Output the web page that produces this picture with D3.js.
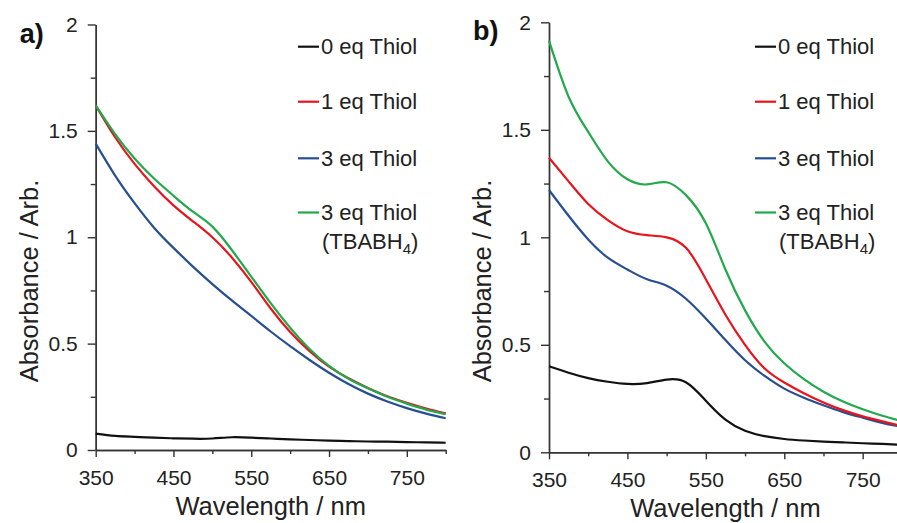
<!DOCTYPE html>
<html>
<head>
<meta charset="utf-8">
<script src="https://cdn.jsdelivr.net/npm/d3@7"></script>
<style>
  body { margin: 0; background: #fff; }
  svg { display: block; font-family: "Liberation Sans", Arial, sans-serif; }
  .domain, .tick line { stroke: #333; stroke-width: 1.4px; }
  .tick text { fill: #222; font-size: 21px; }
</style>
</head>
<body>
<div id="chart"></div>
<script>
const width = 897;
const height = 523;

// wavelength grid (nm), shared by every trace
const wavelengths = [350, 375, 400, 425, 450, 475, 500, 525, 550, 575, 600,
  625, 650, 675, 700, 725, 750, 775, 800];

// panel a) absorbance
const a0eq = [0.077, 0.066, 0.062, 0.058, 0.055, 0.053, 0.054, 0.06, 0.058, 0.054, 0.05,
  0.047, 0.044, 0.042, 0.04, 0.039, 0.037, 0.036, 0.034];
const a1eq = [1.62, 1.47, 1.345, 1.24, 1.15, 1.075, 1.0, 0.905, 0.79, 0.665, 0.555,
  0.465, 0.392, 0.337, 0.292, 0.253, 0.222, 0.195, 0.172];
const a3eq = [1.44, 1.29, 1.16, 1.045, 0.95, 0.862, 0.78, 0.703, 0.63, 0.557, 0.488,
  0.423, 0.363, 0.31, 0.265, 0.228, 0.197, 0.171, 0.149];
const a3eqTb = [1.62, 1.485, 1.37, 1.276, 1.195, 1.12, 1.05, 0.94, 0.815, 0.69, 0.575,
  0.475, 0.395, 0.335, 0.29, 0.25, 0.218, 0.19, 0.168];

// panel b) absorbance
const b0eq = [0.40, 0.37, 0.345, 0.328, 0.318, 0.322, 0.338, 0.325, 0.24, 0.152, 0.10,
  0.075, 0.062, 0.055, 0.05, 0.046, 0.042, 0.039, 0.035];
const b1eq = [1.37, 1.26, 1.155, 1.08, 1.028, 1.01, 1.0, 0.95, 0.805, 0.64, 0.50,
  0.39, 0.325, 0.275, 0.232, 0.196, 0.167, 0.144, 0.122];
const b3eq = [1.22, 1.10, 0.99, 0.905, 0.85, 0.805, 0.775, 0.713, 0.622, 0.522, 0.428,
  0.355, 0.296, 0.254, 0.219, 0.187, 0.161, 0.137, 0.118];
const b3eqTb = [1.915, 1.654, 1.49, 1.353, 1.27, 1.246, 1.256, 1.195, 1.065, 0.85, 0.66,
  0.514, 0.414, 0.34, 0.282, 0.236, 0.2, 0.17, 0.145];

const seriesNames = ["0 eq Thiol", "1 eq Thiol", "3 eq Thiol", "3 eq Thiol"];
const seriesColors = ["#111111", "#e8141c", "#264f91", "#21a94b"];
const drawOrder = [0, 2, 1, 3];

const xMajor = [350, 450, 550, 650, 750];
const xMinor = [400, 500, 600, 700, 800];
const yMajor = [0, 0.5, 1, 1.5, 2];
const yMinor = [0.25, 0.75, 1.25, 1.75];

const svg = d3.select("#chart").append("svg")
  .attr("width", width)
  .attr("height", height);

function drawPanel(p) {
  const x = d3.scaleLinear([350, 800], [p.left, p.right]);
  const y = d3.scaleLinear([0, 2], [p.bottom, p.top]);
  const g = svg.append("g");

  // minor ticks first, then the labelled axis on top
  g.append("g")
    .attr("transform", `translate(0,${p.bottom})`)
    .call(d3.axisBottom(x).tickValues(xMinor).tickSize(4).tickSizeOuter(0).tickFormat(""));
  g.append("g")
    .attr("transform", `translate(0,${p.bottom})`)
    .call(d3.axisBottom(x).tickValues(xMajor).tickSize(7).tickSizeOuter(0).tickPadding(13));

  g.append("g")
    .attr("transform", `translate(${p.left},0)`)
    .call(d3.axisLeft(y).tickValues(yMinor).tickSize(5).tickSizeOuter(0).tickFormat(""));
  g.append("g")
    .attr("transform", `translate(${p.left},0)`)
    .call(d3.axisLeft(y).tickValues(yMajor).tickSize(8).tickSizeOuter(0).tickPadding(10)
      .tickFormat((d) => String(d)));

  const line = d3.line()
    .x((d, i) => x(wavelengths[i]))
    .y((d) => y(d))
    .curve(d3.curveNatural);

  drawOrder.forEach((k) => {
    g.append("path")
      .datum(p.series[k])
      .attr("fill", "none")
      .attr("stroke", seriesColors[k])
      .attr("stroke-width", 2.2)
      .attr("stroke-linejoin", "round")
      .attr("d", line);
  });

  // axis titles
  g.append("text")
    .attr("x", (p.left + p.right) / 2)
    .attr("y", p.bottom + 65)
    .attr("text-anchor", "middle")
    .attr("font-size", 25.5)
    .attr("fill", "#222")
    .text("Wavelength / nm");

  g.append("text")
    .attr("transform", `translate(${p.left - 58},281) rotate(-90)`)
    .attr("text-anchor", "middle")
    .attr("font-size", 25.5)
    .attr("fill", "#222")
    .text("Absorbance / Arb.");

  // panel letter
  g.append("text")
    .attr("x", p.left - 76)
    .attr("y", p.top + 18)
    .attr("font-size", 27)
    .attr("font-weight", "bold")
    .attr("fill", "#111")
    .text(p.letter);

  // legend
  const rows = [46.7, 101.7, 158.3, 212.5];
  rows.forEach((ry, k) => {
    g.append("line")
      .attr("x1", p.legendX).attr("x2", p.legendX + 21)
      .attr("y1", ry).attr("y2", ry)
      .attr("stroke", seriesColors[k])
      .attr("stroke-width", 2.2);
    g.append("text")
      .attr("x", p.legendX + 23)
      .attr("y", ry + 7.5)
      .attr("font-size", 22)
      .attr("fill", "#222")
      .text(seriesNames[k]);
  });
  const sub = g.append("text")
    .attr("x", p.legendX + 24)
    .attr("y", rows[3] + 36)
    .attr("font-size", 22)
    .attr("fill", "#222");
  sub.append("tspan").text("(TBABH");
  sub.append("tspan").attr("dy", 5).attr("font-size", 15).text("4");
  sub.append("tspan").attr("dy", -5).text(")");
}

drawPanel({
  letter: "a)", left: 95.7, right: 445.7, top: 24.5, bottom: 450,
  legendX: 298, series: [a0eq, a1eq, a3eq, a3eqTb]
});

drawPanel({
  letter: "b)", left: 549, right: 901.9, top: 22.3, bottom: 452.3,
  legendX: 755, series: [b0eq, b1eq, b3eq, b3eqTb]
});
</script>
</body>
</html>
